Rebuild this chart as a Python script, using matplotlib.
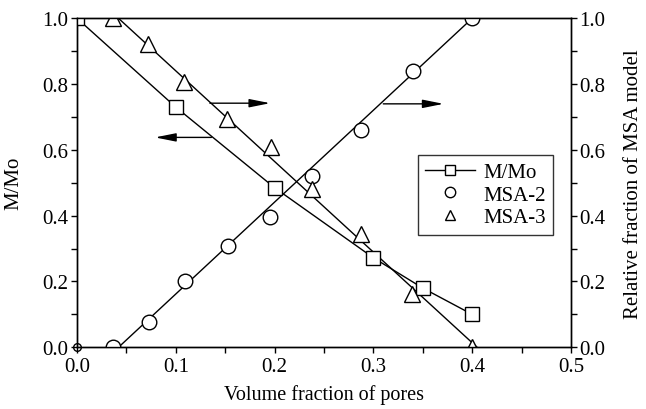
import matplotlib
matplotlib.use("Agg")
import matplotlib.pyplot as plt
from matplotlib.ticker import MultipleLocator, FormatStrFormatter

plt.rcParams['font.family'] = ['Liberation Serif', 'DejaVu Serif']

# Data
pore_mmo = [0.0, 0.1, 0.2, 0.3, 0.35, 0.4]
mmo = [1.0, 0.73, 0.485, 0.272, 0.18, 0.10]

pore_msa2 = [0.036, 0.073, 0.109, 0.1525, 0.195, 0.2375, 0.2875, 0.340, 0.400]
msa2 = [0.0, 0.078, 0.20, 0.309, 0.395, 0.52, 0.66, 0.841, 1.0]
fit2_x = [0.042, 0.400]
fit2_y = [0.0, 1.0]

pore_msa3 = [0.036, 0.0715, 0.108, 0.1515, 0.196, 0.238, 0.287, 0.339, 0.400]
msa3 = [1.0, 0.922, 0.805, 0.694, 0.608, 0.481, 0.344, 0.162, 0.0]
fit3_x = [0.042, 0.405]
fit3_y = [1.0, 0.0]

origin_x = [0.0]
origin_y = [0.0]

legend_labels = ['M/Mo', 'MSA-2', 'MSA-3']

fig = plt.figure(figsize=(6.46, 4.10), dpi=100)
ax = fig.add_axes([0.1192, 0.1505, 0.7647, 0.8024])
ax2 = ax.twinx()

ms = 10
mk = dict(markerfacecolor='white', markeredgecolor='black', markeredgewidth=1.0, color='black')

ax.plot(fit2_x, fit2_y, '-', color='black', lw=1.0, zorder=2)
ax.plot(fit3_x, fit3_y, '-', color='black', lw=1.0, zorder=2)
l1, = ax.plot(pore_mmo, mmo, '-s', lw=1.0, ms=ms, zorder=3, **mk)
l2, = ax.plot(pore_msa2, msa2, 'o', ls='none', ms=ms + 0.5, zorder=3, **mk)
l3, = ax.plot(pore_msa3, msa3, '^', ls='none', ms=ms + 1.5, zorder=3, **mk)
ax.plot(origin_x, origin_y, 'o', ms=5.5, clip_on=False, zorder=1.5,
        markerfacecolor='none', markeredgecolor='black', markeredgewidth=1.0)

# arrows
arrow_kw = dict(arrowstyle='-|>,head_length=0.9,head_width=0.18', color='black',
                lw=1.0, mutation_scale=14, shrinkA=0, shrinkB=0)
ax.annotate('', xy=(0.079, 0.638), xytext=(0.136, 0.638), arrowprops=arrow_kw)
ax.annotate('', xy=(0.1955, 0.742), xytext=(0.1345, 0.742), arrowprops=arrow_kw)
ax.annotate('', xy=(0.371, 0.74), xytext=(0.31, 0.74), arrowprops=arrow_kw)

ax.set_xlim(0, 0.5)
ax.set_ylim(0, 1.0)
ax2.set_ylim(0, 1.0)

fs = 15
ax.xaxis.set_major_locator(MultipleLocator(0.1))
ax.xaxis.set_minor_locator(MultipleLocator(0.05))
for a in (ax, ax2):
    a.yaxis.set_major_locator(MultipleLocator(0.2))
    a.yaxis.set_minor_locator(MultipleLocator(0.1))
    a.yaxis.set_major_formatter(FormatStrFormatter('%.1f'))
ax.xaxis.set_major_formatter(FormatStrFormatter('%.1f'))
ax.tick_params(which='both', direction='out', labelsize=fs, width=1.0, length=4, pad=2)
ax2.tick_params(which='both', direction='out', labelsize=fs, width=1.0, length=4, pad=2)
ax.tick_params(axis='x', which='both', top=False, pad=3)

for a in (ax, ax2):
    for s in a.spines.values():
        s.set_linewidth(1.0)

ax.set_xlabel('Volume fraction of pores', fontsize=14.5, labelpad=6)
ax.set_ylabel('M/Mo', fontsize=fs, labelpad=14)
ax2.set_ylabel('Relative fraction of MSA model', fontsize=fs, labelpad=13)

leg = ax.legend([l1, l2, l3], legend_labels, loc='upper left',
                bbox_to_anchor=(0.690, 0.584), fontsize=fs, frameon=True,
                fancybox=False, edgecolor='black', handlelength=2.4,
                handletextpad=0.4, borderpad=0.35, labelspacing=0.15,
                borderaxespad=0)
leg.get_frame().set_linewidth(1.0)
for h in leg.legend_handles:
    h.set_markersize(7.5)

fig.savefig('out.png', dpi=100)
